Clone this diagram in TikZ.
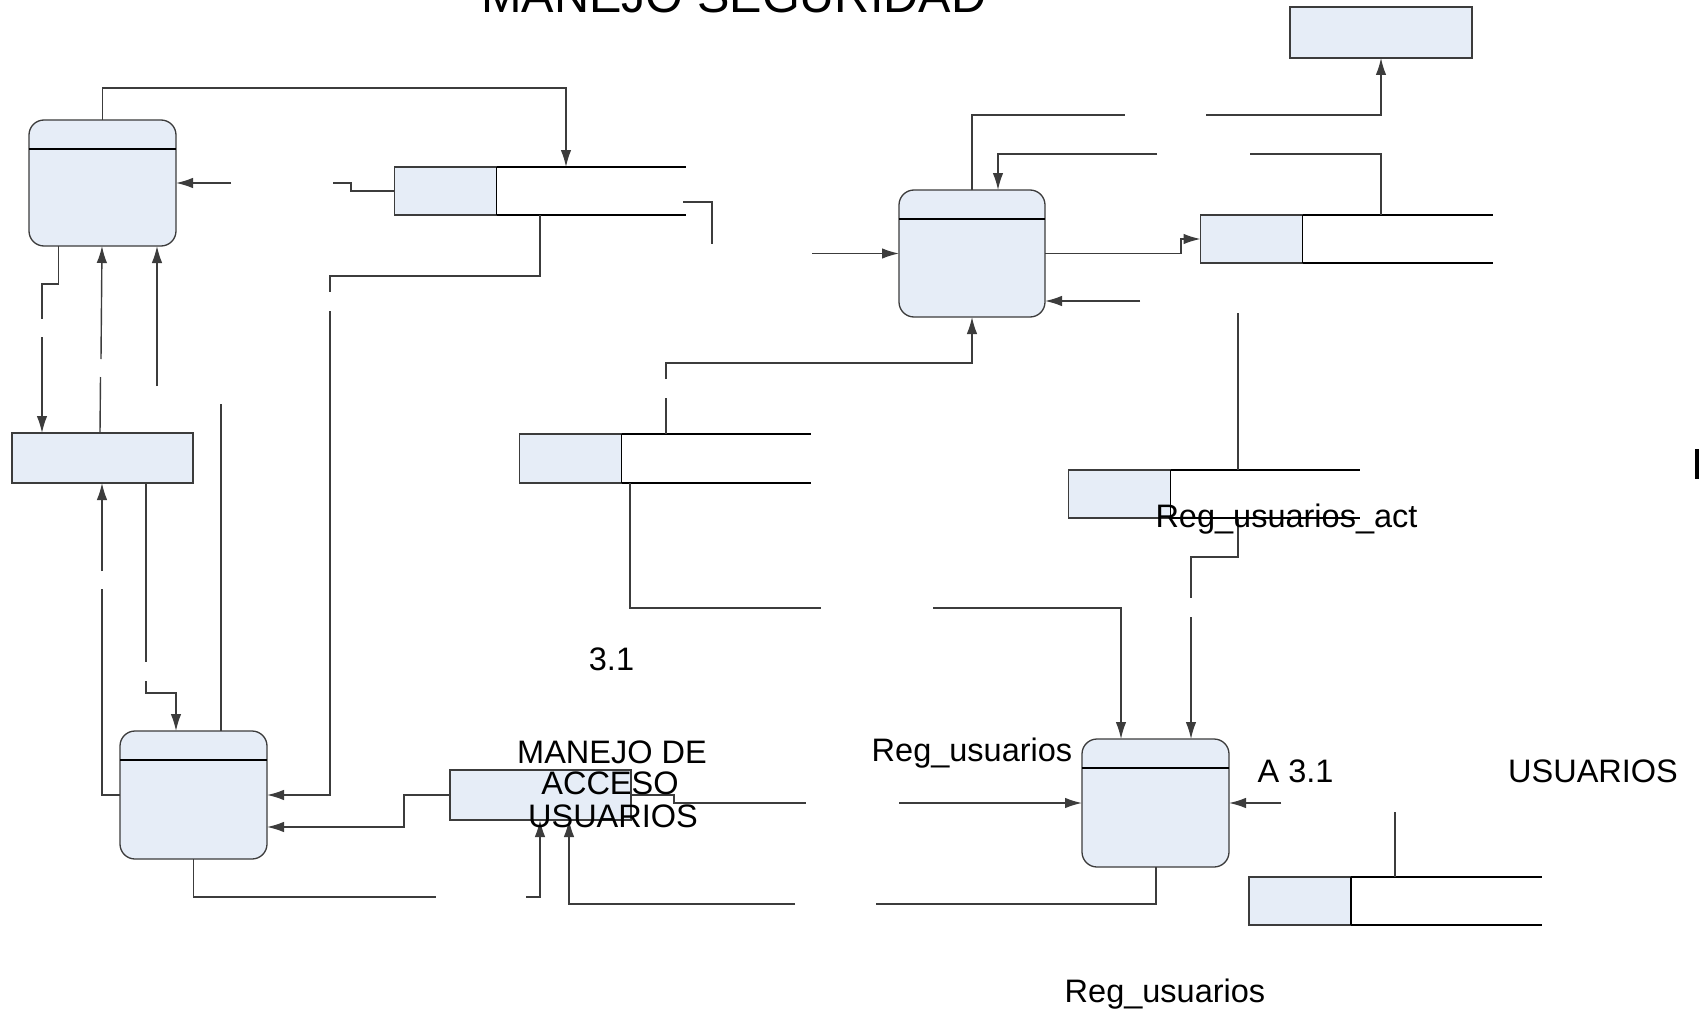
\documentclass[tikz,border=0pt]{standalone}
\usepackage{fontspec}
\setmainfont{Liberation Sans}
\usetikzlibrary{arrows.meta}
\definecolor{boxfill}{RGB}{230,237,247}
\definecolor{lnc}{RGB}{60,60,60}
\begin{document}
\begin{tikzpicture}[x=1pt,y=-1pt,
  proc/.style={draw=lnc, line width=1.3pt, fill=boxfill, rounded corners=15pt, inner sep=0pt, outer sep=0pt},
  ent/.style={draw=lnc, line width=1.3pt, fill=boxfill, inner sep=0pt, outer sep=0pt},
  storebox/.style={draw=lnc, line width=1.3pt, fill=boxfill, inner sep=0pt, outer sep=0pt, minimum width=102pt, minimum height=48pt},
  divider/.style={draw=black, line width=1.4pt},
  conn/.style={draw=lnc, line width=1.4pt},
  arr/.style={conn, -{Latex[length=17pt,width=10.5pt]}},
  storeline/.style={draw=black, line width=1.8pt},
  lbl/.style={font=\fontsize{32.5}{36}\selectfont, inner sep=0pt, anchor=base},
  titlefont/.style={font=\fontsize{48.6}{52}\selectfont, inner sep=0pt, anchor=base west}
]
\useasboundingbox (0,0) rectangle (1699,1014);
\fill[white] (0,0) rectangle (1699,1014);

% processes
\node[proc, minimum width=147pt, minimum height=126pt] (P1) at (102.5,183) {};
\draw[divider] (P1.west |- 0,149) -- (P1.east |- 0,149);
\node[proc, minimum width=147pt, minimum height=128pt] (P2) at (193.5,795) {};
\draw[divider] (P2.west |- 0,760) -- (P2.east |- 0,760);
\node[proc, minimum width=146pt, minimum height=127pt] (P3) at (972,253.5) {};
\draw[divider] (P3.west |- 0,219) -- (P3.east |- 0,219);
\node[proc, minimum width=147pt, minimum height=128pt] (P4) at (1155.5,803) {};
\draw[divider] (P4.west |- 0,768) -- (P4.east |- 0,768);

% external entities
\node[ent, minimum width=181pt, minimum height=50pt] (E1) at (102.5,458) {};
\node[ent, minimum width=182pt, minimum height=51pt] (E2) at (1381,32.5) {};
\node[ent, minimum width=181pt, minimum height=50pt] (B) at (540.5,795) {};

% data stores
\node[storebox] (D1) at (445.5,191) {};
\draw[storeline] (D1.north east) -- (D1.south east);
\draw[storeline] (D1.north east) -- (D1.north east -| 686,0);
\draw[storeline] (D1.south east) -- (D1.south east -| 686,0);
\node[storebox, minimum height=49pt] (D2) at (570.5,458.5) {};
\draw[storeline] (D2.north east) -- (D2.south east);
\draw[storeline] (D2.north east) -- (D2.north east -| 811,0);
\draw[storeline] (D2.south east) -- (D2.south east -| 811,0);
\node[storebox] (D3) at (1251.5,239) {};
\draw[storeline] (D3.north east) -- (D3.south east);
\draw[storeline] (D3.north east) -- (D3.north east -| 1493,0);
\draw[storeline] (D3.south east) -- (D3.south east -| 1493,0);
\node[storebox] (D4) at (1119.5,494) {};
\draw[storeline] (D4.north east) -- (D4.south east);
\draw[storeline] (D4.north east) -- (D4.north east -| 1360,0);
\draw[storeline] (D4.south east) -- (D4.south east -| 1360,0);
\node[storebox] (D5) at (1300,901) {};
\draw[storeline] (D5.north east) -- (D5.south east);
\draw[storeline] (D5.north east) -- (D5.north east -| 1542,0);
\draw[storeline] (D5.south east) -- (D5.south east -| 1542,0);

% connectors (gaps where blank labels sit)
\draw[arr] (P1.north) -- (102.5,88) -- (566,88) -- (566,0 |- D1.north);
\draw[conn] (D1.west) -- (351,191) -- (351,183) -- (333,183);
\draw[arr] (231,183) -- (P1.east);
\draw[conn] (683,202) -- (712,202) -- (712,244);
\draw[arr] (812,253.5) -- (P3.west);
\draw[conn] (540,0 |- D1.south) -- (540,276) -- (330,276) -- (330,292);
\draw[arr] (330,311) -- (330,795) -- (P2.east);
\draw[conn] (58.5,0 |- P1.south) -- (58.5,284) -- (42,284) -- (42,319);
\draw[arr] (42,337) -- (42,0 |- E1.north);
\draw[conn] (100,0 |- E1.north) -- (100.5,377);
\draw[arr] (101,359) -- (102,0 |- P1.south);
\draw[conn] (221,0 |- P2.north) -- (221,404);
\draw[arr] (157,386) -- (157,0 |- P1.south);
\draw[conn] (146,0 |- E1.south) -- (146,662);
\draw[arr] (146,681) -- (146,693) -- (176,693) -- (176,0 |- P2.north);
\draw[conn] (P2.west) -- (102,795) -- (102,589);
\draw[arr] (102,571) -- (102,0 |- E1.south);
\draw[arr] (B.west) -- (404,795) -- (404,827) -- (P2.east |- 0,827);
\draw[conn] (P2.south) -- (193.5,897) -- (436,897);
\draw[arr] (526,897) -- (540,897) -- (540,0 |- B.south);
\draw[conn] (1156,0 |- P4.south) -- (1156,904) -- (876,904);
\draw[arr] (795,904) -- (569,904) -- (569,0 |- B.south);
\draw[conn] (B.east) -- (674,795) -- (674,803) -- (806,803);
\draw[arr] (899,803) -- (P4.west);
\draw[conn] (666,0 |- D2.north) -- (666,398);
\draw[arr] (666,379) -- (666,363) -- (972,363) -- (P3.south);
\draw[conn] (630,0 |- D2.south) -- (630,608) -- (821,608);
\draw[arr] (933,608) -- (1121,608) -- (1121,0 |- P4.north);
\draw[conn] (1238,0 |- D4.north) -- (1238,313);
\draw[arr] (1140,301) -- (P3.east |- 0,301);
\draw[conn] (1238,0 |- D4.south) -- (1238,557) -- (1191,557) -- (1191,598);
\draw[arr] (1191,617) -- (1191,0 |- P4.north);
\draw[conn] (P3.north) -- (972,115) -- (1125,115);
\draw[arr] (1206,115) -- (1381,115) -- (E2.south);
\draw[conn] (1381,0 |- D3.north) -- (1381,154) -- (1250,154);
\draw[arr] (1157,154) -- (998,154) -- (998,0 |- P3.north);
\draw[arr] (P3.east) -- (1181,253.5) -- (1181,239) -- (D3.west);
\draw[conn] (1395,0 |- D5.north) -- (1395,812);
\draw[arr] (1281,803) -- (P4.east);

% texts
\node[titlefont] (title) at (481,13) {MANEJO SEGURIDAD};
\node[lbl] (t31) at (611.5,670) {3.1};
\node[lbl] (tm1) at (612,763) {MANEJO DE};
\node[lbl] (tm2) at (610,794) {ACCESO};
\node[lbl] (tm3) at (613,827) {USUARIOS};
\node[lbl] (treg1) at (972,761) {Reg\_usuarios};
\node[lbl] (ta31) at (1295.5,782) {A 3.1};
\node[lbl] (tusu) at (1593,782) {USUARIOS};
\node[lbl] (tregact) at (1286.5,527) {Reg\_usuarios\_act};
\node[lbl] (treg2) at (1165,1002) {Reg\_usuarios};

% cut-off glyph stem at the right edge
\fill[black] (1695,449) rectangle (1699,479);
\end{tikzpicture}
\end{document}
